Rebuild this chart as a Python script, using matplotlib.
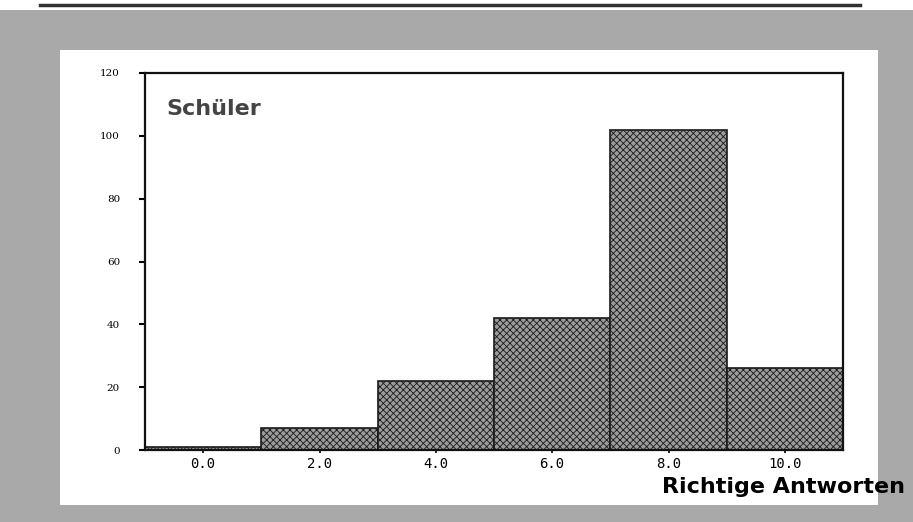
import matplotlib
matplotlib.use("Agg")
import matplotlib.pyplot as plt
from matplotlib.patches import Rectangle
from matplotlib.lines import Line2D

# Histogramm: Anzahl Schüler je Anzahl richtiger Antworten
klassen = [0.0, 2.0, 4.0, 6.0, 8.0, 10.0]
anzahl = [1, 7, 22, 42, 102, 26]
tick_labels = ["0.0", "2.0", "4.0", "6.0", "8.0", "10.0"]
y_ticks = [0, 20, 40, 60, 80, 100, 120]

W, H = 913, 522
plt.rcParams["hatch.color"] = "#666666"
plt.rcParams["hatch.linewidth"] = 0.6

fig = plt.figure(figsize=(W / 100, H / 100), dpi=100)
fig.patch.set_facecolor("#a9a9a9")

# weisses Blatt auf grauem Scan-Hintergrund
fig.add_artist(Rectangle((60 / W, 1 - 505 / H), 818 / W, 455 / H,
                         transform=fig.transFigure, facecolor="white",
                         edgecolor="none", zorder=0))
fig.add_artist(Rectangle((0, 1 - 10 / H), 1, 10 / H,
                         transform=fig.transFigure, facecolor="white",
                         edgecolor="none", zorder=0))
fig.add_artist(Line2D([40 / W, 860 / W], [1 - 5 / H, 1 - 5 / H],
                      transform=fig.transFigure, color="#333333", lw=2.5))

ax = fig.add_axes([145 / W, 1 - 450 / H, 698 / W, 377 / H])
ax.set_facecolor("white")

ax.bar(klassen, anzahl, width=2.0, align="center", color="#9c9c9c",
       edgecolor="#1a1a1a", linewidth=1.2, hatch="xxxxx", zorder=2)

ax.set_xlim(-1, 11)
ax.set_ylim(0, 120)
ax.set_xticks(klassen)
ax.set_xticklabels(tick_labels, family="DejaVu Sans Mono", fontsize=10)
ax.set_yticks(y_ticks)
ax.set_yticklabels([str(v) for v in y_ticks], family="DejaVu Serif", fontsize=7.5)
ax.tick_params(axis="y", direction="out", length=4, width=1.5, pad=14)
ax.tick_params(axis="x", direction="out", length=2, width=1.2, pad=3)

for s in ax.spines.values():
    s.set_color("#111111")
    s.set_linewidth(1.6)

ax.text(0.03, 0.93, "Schüler", transform=ax.transAxes, fontsize=16,
        fontweight="bold", color="#444444", va="top", ha="left")

fig.text(905 / W, 1 - 487 / H, "Richtige Antworten",
         family=["Liberation Sans Narrow", "DejaVu Sans"], fontsize=16,
         fontweight="bold", color="black", ha="right", va="center")

fig.savefig("out.png", dpi=100)
